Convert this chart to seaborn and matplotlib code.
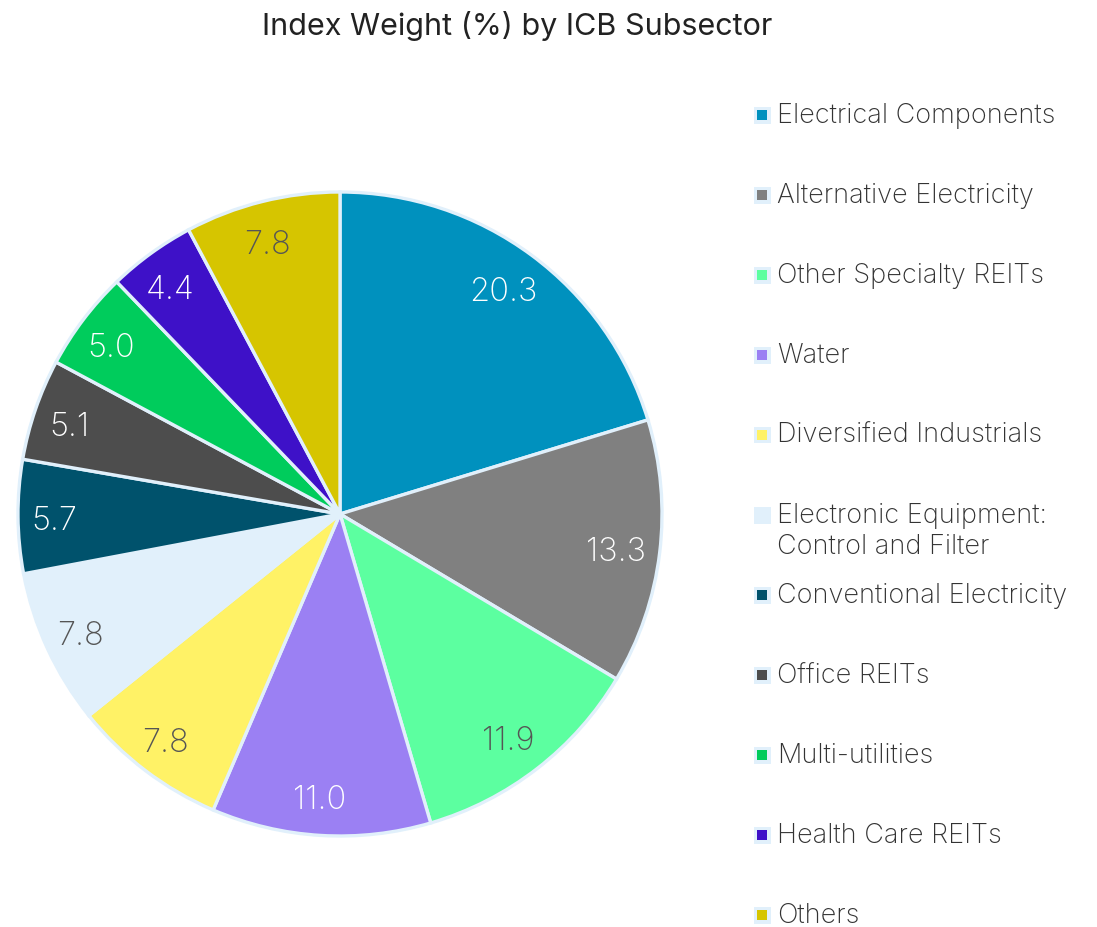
import matplotlib
matplotlib.use("Agg")
import matplotlib.pyplot as plt
from matplotlib.patches import Rectangle
from matplotlib.transforms import ScaledTranslation
import seaborn as sns

categories = ["Electrical Components", "Alternative Electricity", "Other Specialty REITs",
              "Water", "Diversified Industrials", "Electronic Equipment:\nControl and Filter",
              "Conventional Electricity", "Office REITs", "Multi-utilities",
              "Health Care REITs", "Others"]
weights = [20.3, 13.3, 11.9, 11.0, 7.8, 7.8, 5.7, 5.1, 5.0, 4.4, 7.8]
colors = ["#0091be", "#808080", "#5cffa0", "#9b80f3", "#fff266", "#e1f0fb",
          "#00526c", "#4d4d4d", "#00cc5c", "#3e11c8", "#d6c500"]
label_colors = ["white", "white", "#555555", "white", "#555555", "#555555",
                "white", "white", "white", "white", "#555555"]

sns.set_theme(style="white")
plt.rcParams['font.family'] = ['Inter', 'DejaVu Sans']

W, H = 1097, 927
fig = plt.figure(figsize=(W / 100, H / 100), dpi=100)
cx, cy, r = 340, 514, 322
ax = fig.add_axes([(cx - r) / W, (H - cy - r) / H, 2 * r / W, 2 * r / H])
wedges, texts = ax.pie(weights, colors=colors, startangle=90, counterclock=False,
                       labels=[f"{v:.1f}" for v in weights], labeldistance=0.875,
                       wedgeprops=dict(edgecolor="#e1f0fb", linewidth=2.4),
                       textprops=dict(fontsize=23.5, ha="center", va="center", fontweight="light"))
shift = ScaledTranslation(-4 / 100, -5 / 100, fig.dpi_scale_trans)
for t, c in zip(texts, label_colors):
    t.set_color(c)
    t.set_transform(t.get_transform() + shift)
ax.set_xlim(-1, 1)
ax.set_ylim(-1, 1)
ax.set_aspect("equal")
ax.axis("off")

fig.text(517 / W, 1 - 26 / H, "Index Weight (%) by ICB Subsector", ha="center", va="center",
         fontsize=22, color="#222222")

y0 = 123
for i, (cat, col) in enumerate(zip(categories, colors)):
    y = y0 + 80 * i
    ym = y - 8
    s = 17
    fig.patches.append(Rectangle(((762 - s / 2) / W, 1 - (ym + s / 2) / H), s / W, s / H,
                                 transform=fig.transFigure, facecolor="#e1f0fb", edgecolor="none"))
    s2 = 10
    fig.patches.append(Rectangle(((762 - s2 / 2) / W, 1 - (ym + s2 / 2) / H), s2 / W, s2 / H,
                                 transform=fig.transFigure, facecolor=col, edgecolor="none"))
    for k, line in enumerate(cat.split("\n")):
        fig.text(777 / W, 1 - (y + 31 * k) / H, line, ha="left", va="baseline", fontsize=19.5,
                 color="#333333", fontweight="light")

fig.savefig("out.png", dpi=100)
